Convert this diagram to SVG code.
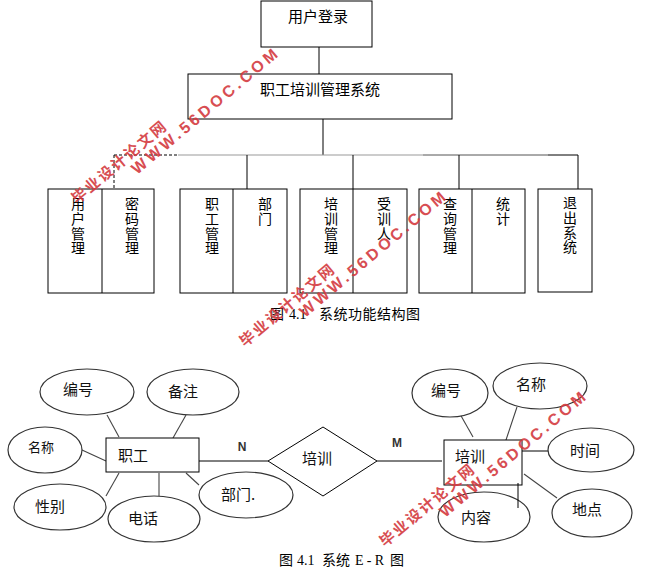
<svg xmlns="http://www.w3.org/2000/svg" width="655" height="584" viewBox="0 0 655 584">
<style>
.box{fill:#fff;stroke:#000;stroke-width:1}
.ln{stroke:#000;stroke-width:1;fill:none}
.el{fill:#fff;stroke:#333;stroke-width:1.2}
.eln{stroke:#444;stroke-width:1.1;fill:none}
.t{font-family:"Noto Sans CJK SC","Liberation Sans",sans-serif;font-size:15px;fill:#000}
.tv{font-family:"Noto Sans CJK SC","Liberation Sans",sans-serif;font-size:14px;fill:#000;writing-mode:vertical-rl;letter-spacing:0.7px}
.te{font-family:"Noto Sans CJK SC","Liberation Sans",sans-serif;font-size:15px;fill:#111;text-anchor:middle;dominant-baseline:central}
.lab{font-family:"Liberation Sans",sans-serif;font-size:12px;font-weight:bold;fill:#333;text-anchor:middle;dominant-baseline:central}
.cap{font-family:"Liberation Serif","Noto Sans CJK SC",serif;font-size:14px;fill:#000}
.wm1{font-family:"Liberation Sans",sans-serif;font-size:16px;font-weight:bold;fill:#d43a40;opacity:0.9}
.wm2{font-family:"Noto Sans CJK SC",sans-serif;font-size:15px;font-weight:bold;fill:#d43a40;opacity:0.9}
</style>

<g id="connectors">
  <line class="ln" x1="319" y1="47" x2="319" y2="74"/>
  <line class="ln" x1="323" y1="119" x2="323" y2="155"/>
  <line class="ln" x1="114" y1="155" x2="178" y2="155" stroke-dasharray="3,2"/>
  <line x1="178" y1="155" x2="423" y2="155" stroke="#999" stroke-width="1.2"/>
  <line x1="423" y1="155" x2="548" y2="155" stroke="#555" stroke-width="1"/>
  <line class="ln" x1="548" y1="155" x2="578" y2="155"/>
  <line class="ln" x1="114" y1="155" x2="114" y2="189" stroke-dasharray="3,2"/>
  <line class="ln" x1="247" y1="155" x2="247" y2="189"/>
  <line class="ln" x1="353" y1="155" x2="353" y2="189"/>
  <line class="ln" x1="459" y1="155" x2="459" y2="189"/>
  <line class="ln" x1="578" y1="155" x2="578" y2="189"/>

  <line class="eln" x1="107" y1="415" x2="119" y2="437"/>
  <line class="eln" x1="186" y1="415" x2="173" y2="438"/>
  <line class="eln" x1="82" y1="450" x2="106" y2="461"/>
  <line class="eln" x1="106" y1="496" x2="119" y2="473"/>
  <line class="eln" x1="159" y1="473" x2="159" y2="496"/>
  <line class="eln" x1="186" y1="473" x2="199" y2="485"/>
  <line class="ln" x1="199" y1="461" x2="268" y2="461"/>
  <line class="ln" x1="377" y1="461" x2="442" y2="461"/>
  <line class="eln" x1="460" y1="414" x2="473" y2="437"/>
  <line class="eln" x1="517" y1="407" x2="505" y2="443"/>
  <line class="ln" x1="522" y1="451" x2="549" y2="451"/>
  <line class="eln" x1="524" y1="474" x2="557" y2="498"/>
</g>

<g id="login">
  <rect class="box" x="261" y="1" width="111" height="46"/>
  <text class="t" x="288" y="22">用户登录</text>
</g>
<g id="system">
  <rect class="box" x="188" y="74" width="264" height="45"/>
  <text class="t" x="260" y="95">职工培训管理系统</text>
</g>

<g id="m1">
  <rect class="box" x="48" y="189" width="106" height="104"/>
  <line class="ln" x1="102" y1="189" x2="102" y2="293"/>
  <text class="tv" x="78" y="197">用户管理</text>
  <text class="tv" x="132" y="197">密码管理</text>
</g>
<g id="m2">
  <rect class="box" x="180" y="189" width="107" height="104"/>
  <line class="ln" x1="233" y1="189" x2="233" y2="293"/>
  <text class="tv" x="212" y="197">职工管理</text>
  <text class="tv" x="265" y="197">部门</text>
</g>
<g id="m3">
  <rect class="box" x="300" y="189" width="107" height="104"/>
  <line class="ln" x1="353" y1="189" x2="353" y2="293"/>
  <text class="tv" x="331" y="197">培训管理</text>
  <text class="tv" x="384" y="197">受训人</text>
</g>
<g id="m4">
  <rect class="box" x="419" y="189" width="106" height="104"/>
  <line class="ln" x1="472" y1="189" x2="472" y2="293"/>
  <text class="tv" x="450" y="197">查询管理</text>
  <text class="tv" x="503" y="197">统计</text>
</g>
<g id="m5">
  <rect class="box" x="538" y="189" width="54" height="103"/>
  <text class="tv" x="570" y="196">退出系统</text>
</g>

<g id="caption1">
  <text class="cap" x="270" y="319">图</text>
  <text class="cap" x="289" y="319">4.1</text>
  <text class="cap" x="319" y="319" textLength="101">系统功能结构图</text>
</g>

<g id="e-zhigong">
  <rect class="box" x="106" y="438" width="93" height="34"/>
  <text class="te" x="133" y="454">职工</text>
</g>
<g id="a-bianhao1"><ellipse class="el" cx="87" cy="392" rx="47" ry="23"/><text class="te" x="78" y="388">编号</text></g>
<g id="a-beizhu"><ellipse class="el" cx="193" cy="392" rx="46" ry="23"/><text class="te" x="183" y="390">备注</text></g>
<g id="a-mingcheng1"><ellipse class="el" cx="45" cy="450" rx="37" ry="23"/><text class="te" x="41" y="446" style="font-size:13px">名称</text></g>
<g id="a-xingbie"><ellipse class="el" cx="60" cy="507" rx="46" ry="23"/><text class="te" x="50" y="505">性别</text></g>
<g id="a-dianhua"><ellipse class="el" cx="154" cy="519" rx="46" ry="23"/><text class="te" x="143" y="517">电话</text></g>
<g id="a-bumen"><ellipse class="el" cx="246" cy="495" rx="47" ry="23"/><text class="te" x="238" y="493">部门.</text></g>

<g id="r-peixun">
  <polygon class="box" points="268,461 323,427 377,461 323,496"/>
  <text class="te" x="317" y="457">培训</text>
</g>
<text class="lab" x="242" y="447">N</text>
<text class="lab" x="397" y="443">M</text>

<g id="e-peixun">
  <rect class="box" x="444" y="440" width="78" height="45"/>
  <text class="te" x="470" y="455">培训</text>
</g>
<g id="a-bianhao2"><ellipse class="el" cx="450" cy="393" rx="38" ry="24"/><text class="te" x="446" y="389">编号</text></g>
<g id="a-mingcheng2"><ellipse class="el" cx="540" cy="386" rx="47" ry="23"/><text class="te" x="531" y="383">名称</text></g>
<g id="a-shijian"><ellipse class="el" cx="591" cy="450" rx="43" ry="22"/><text class="te" x="585" y="449">时间</text></g>
<g id="a-didian"><ellipse class="el" cx="592" cy="513" rx="40" ry="24"/><text class="te" x="587" y="508">地点</text></g>
<g id="a-neirong"><ellipse class="el" cx="484" cy="517" rx="46" ry="25"/><text class="te" x="476" y="516">内容</text></g>
<line class="ln" x1="518" y1="483" x2="518" y2="508"/>

<g id="caption2">
  <text class="cap" x="279" y="565">图</text>
  <text class="cap" x="297" y="565">4.1</text>
  <text class="cap" x="322" y="565">系统</text>
  <text class="cap" x="355" y="565" textLength="29">E-R</text>
  <text class="cap" x="390" y="565">图</text>
</g>

<g id="watermark1" transform="translate(137,175) rotate(-40)">
  <text class="wm2" x="-65" y="-16" textLength="118">毕业设计论文网</text>
  <text class="wm1" x="0" y="0" textLength="185">WWW.56DOC.COM</text>
</g>
<g id="watermark2" transform="translate(305,318) rotate(-40)">
  <text class="wm2" x="-65" y="-16" textLength="118">毕业设计论文网</text>
  <text class="wm1" x="0" y="0" textLength="185">WWW.56DOC.COM</text>
</g>
<g id="watermark3" transform="translate(445,518) rotate(-40)">
  <text class="wm2" x="-65" y="-16" textLength="118">毕业设计论文网</text>
  <text class="wm1" x="0" y="0" textLength="185">WWW.56DOC.COM</text>
</g>
</svg>
